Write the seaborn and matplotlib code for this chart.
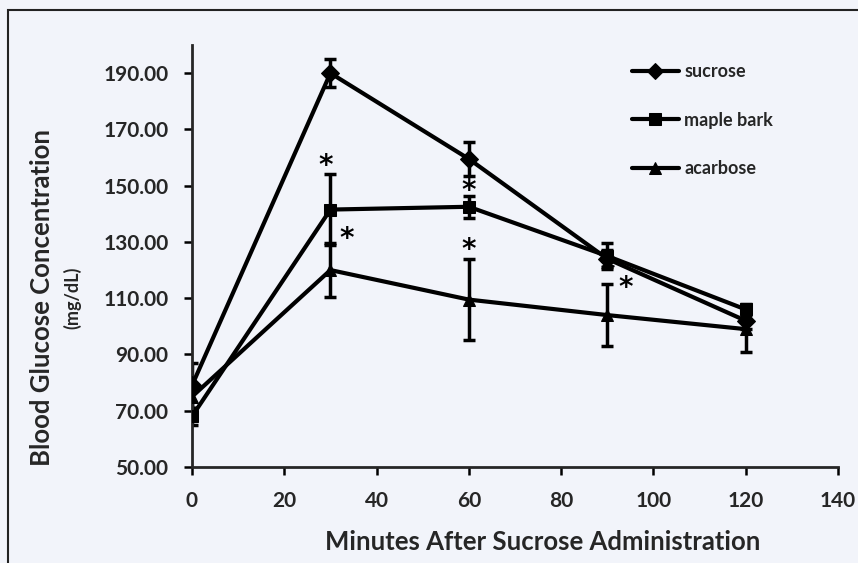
import matplotlib
matplotlib.use("Agg")
import matplotlib.pyplot as plt
from matplotlib.patches import Rectangle
from matplotlib.ticker import FormatStrFormatter
import seaborn as sns
import pandas as pd

# values
minutes = [0, 30, 60, 90, 120]
treatments = ["sucrose", "maple bark", "acarbose"]
sucrose = [79, 190, 159.5, 124, 102]
sucrose_err = [8, 5, 6, 3, 3]
maple = [68, 141.5, 142.5, 125, 106]
maple_err = [3, 12.5, 4, 4.5, 2]
acarbose = [75, 120, 109.5, 104, 99]
acarbose_err = [4, 9.5, 14.5, 11, 8]

# significance stars (minute, glucose)
star_x = [29, 33.5, 60, 60, 90, 94]
star_y = [157, 131, 148, 127, 120, 113.5]

bg = "#f2f4fa"
sns.set_style("ticks")
plt.rcParams["font.family"] = ["Lato", "DejaVu Sans"]
plt.rcParams["font.weight"] = "bold"

rows = []
for name, vals, errs in zip(treatments, [sucrose, maple, acarbose],
                            [sucrose_err, maple_err, acarbose_err]):
    for m, v, e in zip(minutes, vals, errs):
        rows.append({"minute": m, "glucose": v, "err": e, "treatment": name})
df = pd.DataFrame(rows)

fig = plt.figure(figsize=(8.58, 5.63), dpi=100, facecolor=bg)
ax = fig.add_axes([192 / 858, 1 - 467 / 563, (838 - 192) / 858, (467 - 45) / 563])
ax.set_facecolor(bg)

# error bars first so the markers sit on top
for name in treatments:
    sub = df[df.treatment == name]
    ax.errorbar(sub.minute, sub.glucose, yerr=sub.err, fmt="none",
                ecolor="black", elinewidth=2.5, capsize=4, capthick=2.5, zorder=2)

sns.lineplot(data=df, x="minute", y="glucose", hue="treatment", style="treatment",
             hue_order=treatments, style_order=treatments,
             palette=["black"] * 3, markers={"sucrose": "D", "maple bark": "s", "acarbose": "^"},
             dashes=False, linewidth=3, markersize=9, markeredgecolor="black",
             ax=ax, zorder=3)

for x, y in zip(star_x, star_y):
    ax.text(x, y, "*", fontsize=20, ha="center", va="center", color="black",
            family="DejaVu Sans")

ax.set_xlim(0, 140)
ax.set_ylim(50, 200)
ax.set_xticks(range(0, 141, 20))
ax.set_yticks(range(50, 191, 20))
ax.yaxis.set_major_formatter(FormatStrFormatter("%.2f"))
ax.tick_params(labelsize=15, width=1.8, length=6, color="black", pad=11)
for lab in ax.get_xticklabels() + ax.get_yticklabels():
    lab.set_fontweight("bold")
sns.despine(ax=ax)
ax.spines["left"].set_linewidth(2)
ax.spines["bottom"].set_linewidth(2)
ax.set_xlabel("")
ax.set_ylabel("")

fig.text(543 / 858, 1 - 542 / 563, "Minutes After Sucrose Administration",
         fontsize=18.5, fontweight="bold", ha="center", va="center")
fig.text(42 / 858, 1 - 297 / 563, "Blood Glucose Concentration",
         fontsize=18.5, fontweight="bold", rotation=90, ha="center", va="center")
fig.text(72 / 858, 1 - 298 / 563, "(mg/dL)",
         fontsize=13, fontweight="bold", rotation=90, ha="center", va="center")

handles, labels = ax.get_legend_handles_labels()
for h in handles:
    h.set_markersize(8)
ax.legend(handles, labels, loc="upper left", bbox_to_anchor=(632 / 858, 1 - 63 / 563),
          bbox_transform=fig.transFigure, frameon=False,
          labelspacing=1.75, handlelength=2.6, handletextpad=0.3,
          borderpad=0, borderaxespad=0, prop={"weight": "bold", "size": 13})

# outer frame, only left and top edges are inside the image
fig.patches.append(Rectangle((8 / 858, -0.1), 1.2, 1 - 10 / 563 + 0.1,
                             transform=fig.transFigure, fill=False,
                             edgecolor="#222222", linewidth=1.5))

fig.savefig("out.png", dpi=100, facecolor=bg)
